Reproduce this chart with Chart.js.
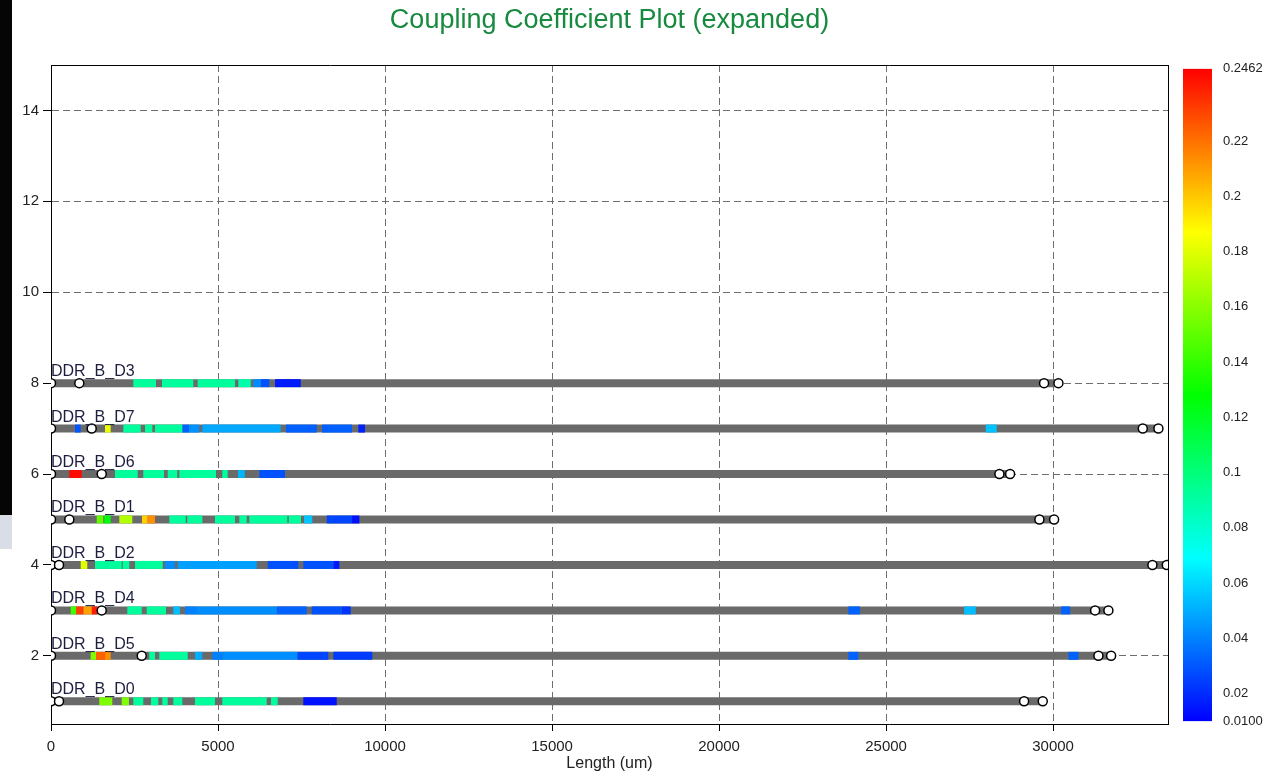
<!DOCTYPE html>
<html>
<head>
<meta charset="utf-8">
<title>Coupling Coefficient Plot</title>
<script src="https://cdn.jsdelivr.net/npm/chart.js@4.4.1/dist/chart.umd.min.js"></script>
<style>
  html, body { margin: 0; padding: 0; background: #fff; }
  #wrap { position: relative; width: 1269px; height: 782px; overflow: hidden; }
  #main { position: absolute; left: 0; top: 0; width: 1269px; height: 782px; }
  #bar { position: absolute; left: 1183px; top: 50px; width: 86px; height: 690px; }
  #edge { position: absolute; left: 0; top: 0; width: 12px; height: 515px; background: #050505; }
  #edge2 { position: absolute; left: 0; top: 515px; width: 12px; height: 34px; background: #d9dde6; }
</style>
</head>
<body>
<div id="wrap">
  <div id="main"><canvas id="plot"></canvas></div>
  <div id="bar"><canvas id="scale"></canvas></div>
  <div id="edge"></div>
  <div id="edge2"></div>
</div>
<script>
// nets, bottom to top
var nets = ["DDR_B_D0", "DDR_B_D5", "DDR_B_D4", "DDR_B_D2", "DDR_B_D1", "DDR_B_D6", "DDR_B_D7", "DDR_B_D3"];
var rows = [1, 2, 3, 4, 5, 6, 7, 8];
var netLengths = [29691, 31737, 31656, 33440, 30030, 28713, 33153, 30160];
var pinPositions = [
    [0, 240, 29132, 29691],
    [0, 2716, 31357, 31737],
    [0, 1518, 31258, 31656],
    [0, 240, 32974, 33404],
    [0, 548, 29590, 30030],
    [0, 1518, 28393, 28713],
    [0, 1218, 32685, 33153],
    [0, 847, 29730, 30160]
];

// coupled sections: [start um, end um, coupling coefficient]
var segD0 = [[1446, 1835, 0.157], [2117, 2335, 0.157], [2464, 2763, 0.092], [2994, 3213, 0.092], [3332, 3494, 0.092],
    [3662, 3931, 0.092], [4311, 4910, 0.092], [5129, 6458, 0.092], [6587, 6787, 0.092], [7554, 8554, 0.014]];
var segD5 = [[1189, 1347, 0.157], [1347, 1617, 0.224], [1617, 1787, 0.213], [2943, 3114, 0.092], [3242, 4093, 0.092],
    [4311, 4530, 0.050], [4829, 5141, 0.040], [5141, 7374, 0.043], [7374, 8303, 0.026], [8452, 9620, 0.024],
    [23870, 24170, 0.033], [30460, 30760, 0.033]];
var segD4 = [[0, 80, 0.205], [590, 749, 0.143], [749, 967, 0.231], [967, 1219, 0.209], [1219, 1386, 0.240],
    [2284, 2716, 0.092], [2865, 3443, 0.092], [3662, 3862, 0.054], [4012, 4362, 0.040], [4362, 6758, 0.043],
    [6758, 7656, 0.033], [7805, 8703, 0.029], [8703, 8973, 0.022], [23870, 24220, 0.033], [27335, 27686, 0.054],
    [30240, 30510, 0.033]];
var segD2 = [[889, 1087, 0.180], [1317, 2117, 0.092], [2147, 2344, 0.092], [2515, 3344, 0.092], [3413, 3713, 0.043],
    [3793, 6159, 0.047], [6488, 7404, 0.029], [7554, 8452, 0.029], [8452, 8632, 0.016]];
var segD1 = [[1368, 1566, 0.150], [1596, 1787, 0.125], [2045, 2434, 0.169], [2724, 2883, 0.198], [2883, 3114, 0.213],
    [3542, 4033, 0.092], [4081, 4530, 0.092], [4910, 5509, 0.092], [5638, 5859, 0.092], [5937, 7075, 0.092],
    [7117, 7485, 0.092], [7575, 7823, 0.056], [8255, 9012, 0.026], [9012, 9231, 0.014]];
var segD6 = [[548, 919, 0.244], [1916, 2596, 0.092], [2763, 3383, 0.092], [3494, 3781, 0.092], [3841, 4940, 0.092],
    [5129, 5290, 0.092], [5599, 5800, 0.052], [6237, 7006, 0.029]];
var segD7 = [[719, 889, 0.030], [1617, 1787, 0.182], [2165, 2686, 0.092], [2814, 3033, 0.092], [3114, 3931, 0.092],
    [3931, 4132, 0.033], [4132, 4440, 0.044], [4530, 6877, 0.049], [7036, 7955, 0.032], [8114, 9012, 0.032],
    [9201, 9401, 0.018], [27985, 28314, 0.055]];
var segD3 = [[2464, 3144, 0.092], [3323, 4261, 0.092], [4392, 5509, 0.092], [5608, 5979, 0.088], [6057, 6278, 0.042],
    [6278, 6536, 0.029], [6707, 7476, 0.016]];
var couplingSegments = [segD0, segD5, segD4, segD2, segD1, segD6, segD7, segD3];

var xTicks = [0, 5000, 10000, 15000, 20000, 25000, 30000];
var yTicks = [2, 4, 6, 8, 10, 12, 14];
var kMin = 0.0100;
var kMax = 0.2462;
var kTicks = [0.0100, 0.02, 0.04, 0.06, 0.08, 0.1, 0.12, 0.14, 0.16, 0.18, 0.2, 0.22, 0.2462];

var tickFont = { family: "'Liberation Sans', Arial, sans-serif", size: 15 };

// blue -> red hue ramp
function kColor(k) {
    var t = (k - kMin) / (kMax - kMin);
    t = Math.max(0, Math.min(1, t));
    return "hsl(" + (240 * (1 - t)).toFixed(1) + ",100%,50%)";
}

var datasets = [];

for (var i = 0; i < nets.length; i++) {
    // whole trace in grey
    datasets.push({
        data: [{ x: 0, y: rows[i] }, { x: netLengths[i], y: rows[i] }],
        showLine: true,
        borderColor: "#6a6a6a",
        borderWidth: 8,
        borderCapStyle: "butt",
        pointRadius: 0,
        pointHitRadius: 0,
        clip: 0,
        order: 3
    });
    // coupled sections on top
    var segs = couplingSegments[i];
    for (var j = 0; j < segs.length; j++) {
        datasets.push({
            data: [{ x: segs[j][0], y: rows[i] }, { x: segs[j][1], y: rows[i] }],
            showLine: true,
            borderColor: kColor(segs[j][2]),
            borderWidth: 8,
            borderCapStyle: "butt",
            pointRadius: 0,
            pointHitRadius: 0,
            clip: 0,
            order: 2
        });
    }
}

// pins
var pins = [];
for (var i = 0; i < nets.length; i++) {
    for (var j = 0; j < pinPositions[i].length; j++) {
        pins.push({ x: pinPositions[i][j], y: rows[i] });
    }
}
datasets.push({
    data: pins,
    showLine: false,
    pointStyle: "circle",
    pointRadius: 4.5,
    pointBorderWidth: 1.5,
    pointBorderColor: "#000",
    pointBackgroundColor: "#fff",
    clip: 0,
    order: 1
});

// net names above each trace
var netNames = {
    id: "netNames",
    afterDatasetsDraw: function (chart) {
        var ctx = chart.ctx;
        var xs = chart.scales.x;
        var ys = chart.scales.y;
        ctx.save();
        ctx.font = "16px 'Liberation Sans', Arial, sans-serif";
        ctx.fillStyle = "#1d1d40";
        ctx.textAlign = "left";
        ctx.textBaseline = "alphabetic";
        for (var i = 0; i < nets.length; i++) {
            ctx.fillText(nets[i], xs.getPixelForValue(0), ys.getPixelForValue(rows[i]) - 7);
        }
        ctx.restore();
    }
};

new Chart(document.getElementById("plot"), {
    type: "scatter",
    data: { datasets: datasets },
    options: {
        responsive: true,
        maintainAspectRatio: false,
        animation: false,
        layout: { padding: 0 },
        plugins: { legend: { display: false }, tooltip: { enabled: false } },
        scales: {
            x: {
                type: "linear",
                position: "bottom",
                min: 0,
                max: 33440,
                afterBuildTicks: function (s) { s.ticks = xTicks.map(function (v) { return { value: v }; }); },
                afterFit: function (s) { s.height = 58; },
                grid: { color: "#6e6e6e", tickColor: "#000", tickLength: 7, tickBorderDash: [] },
                border: { display: true, color: "#000", width: 1, dash: [7, 4] },
                ticks: { font: tickFont, color: "#222", padding: 7, maxRotation: 0, autoSkip: false,
                    callback: function (v) { return String(v); } },
                title: { display: true, text: "Length (um)", color: "#222",
                    font: { family: "'Liberation Sans', Arial, sans-serif", size: 16 }, padding: { top: 0, bottom: 9 } }
            },
            x2: {
                type: "linear",
                position: "top",
                afterFit: function (s) { s.height = 65; },
                grid: { display: false, drawTicks: false },
                border: { display: true, color: "#000", width: 1 },
                ticks: { display: false },
                title: { display: true, text: "Coupling Coefficient Plot (expanded)", color: "#168a3e",
                    font: { family: "'Liberation Sans', Arial, sans-serif", size: 27 }, padding: { top: 4, bottom: 0 } }
            },
            y: {
                type: "linear",
                position: "left",
                min: 0.5,
                max: 15,
                afterBuildTicks: function (s) { s.ticks = yTicks.map(function (v) { return { value: v }; }); },
                afterFit: function (s) { s.width = 51; },
                grid: { color: "#6e6e6e", tickColor: "#000", tickLength: 8, tickBorderDash: [] },
                border: { display: true, color: "#000", width: 1, dash: [7, 4] },
                ticks: { font: tickFont, color: "#222", padding: 4, autoSkip: false }
            },
            y2: {
                type: "linear",
                position: "right",
                afterFit: function (s) { s.width = 101; },
                grid: { display: false, drawTicks: false },
                border: { display: true, color: "#000", width: 1 },
                ticks: { display: false }
            }
        }
    },
    plugins: [netNames]
});

// colour scale
new Chart(document.getElementById("scale"), {
    type: "bar",
    data: {
        labels: ["k"],
        datasets: [{
            data: [[kMin, kMax]],
            barPercentage: 1,
            categoryPercentage: 1,
            borderWidth: 0,
            backgroundColor: function (c) {
                var area = c.chart.chartArea;
                if (!area) return "#888";
                var g = c.chart.ctx.createLinearGradient(0, area.bottom, 0, area.top);
                for (var s = 0; s <= 24; s++) {
                    var t = s / 24;
                    g.addColorStop(t, kColor(kMin + t * (kMax - kMin)));
                }
                return g;
            }
        }]
    },
    options: {
        responsive: true,
        maintainAspectRatio: false,
        animation: false,
        layout: { padding: { top: 15, bottom: 18, left: 0, right: 0 } },
        plugins: { legend: { display: false }, tooltip: { enabled: false } },
        scales: {
            x: { display: false },
            y: {
                position: "right",
                min: kMin,
                max: kMax,
                afterBuildTicks: function (s) { s.ticks = kTicks.map(function (v) { return { value: v }; }); },
                afterFit: function (s) { s.width = 57; },
                grid: { display: false, drawTicks: false },
                border: { display: false },
                ticks: {
                    autoSkip: false,
                    padding: 11,
                    color: "#222",
                    font: { family: "'Liberation Sans', Arial, sans-serif", size: 13 },
                    callback: function (v) {
                        if (v === kMin || v === kMax) return v.toFixed(4);
                        return String(+v.toFixed(2));
                    }
                }
            }
        }
    }
});
</script>
</body>
</html>
